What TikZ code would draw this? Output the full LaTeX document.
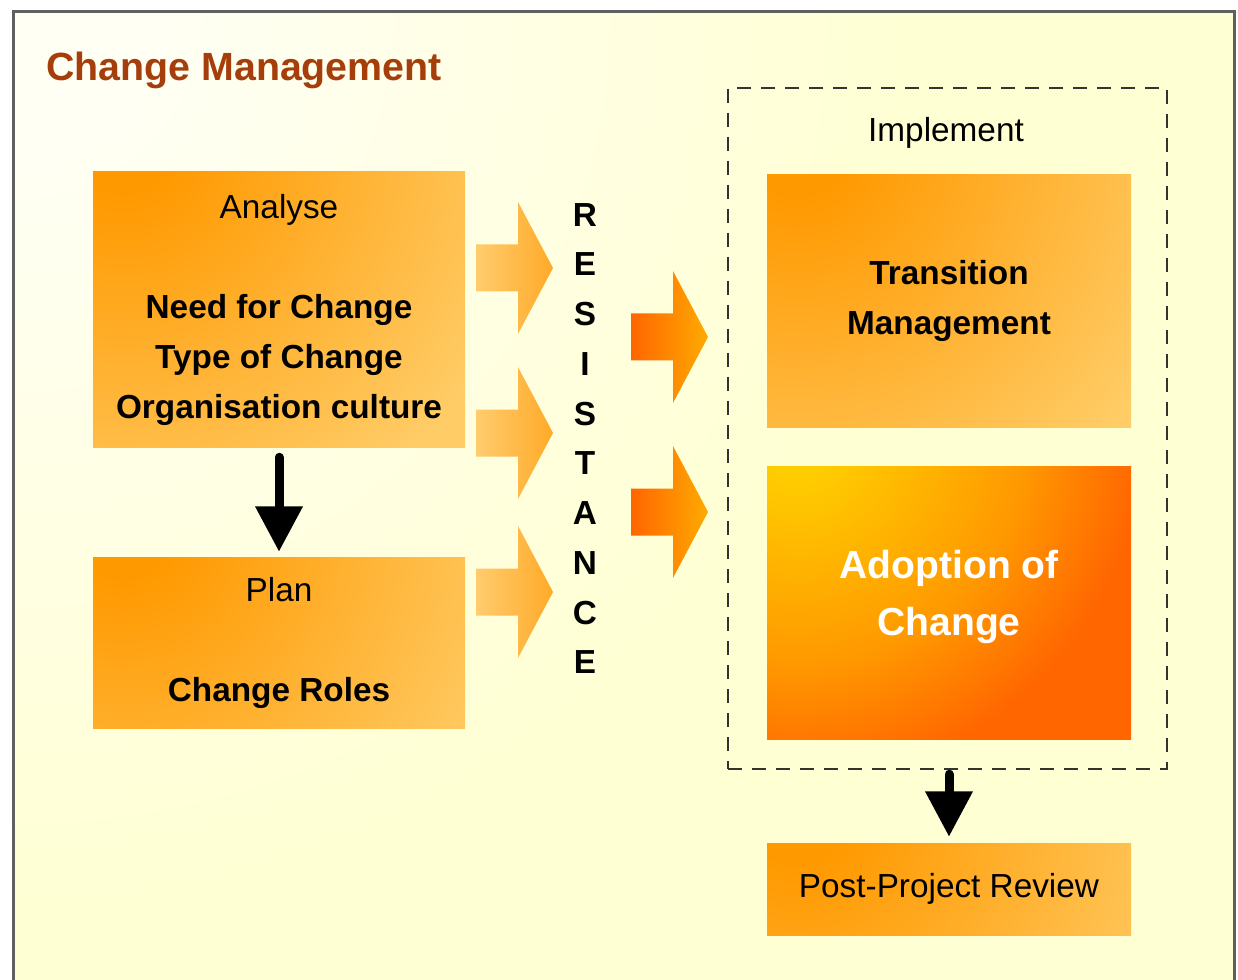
\documentclass[tikz,border=0pt]{standalone}
\usepackage{fontspec}
\setmainfont{Liberation Sans}
\usetikzlibrary{arrows.meta,calc}

\definecolor{titlebrown}{RGB}{165,62,10}
\definecolor{paperlight}{RGB}{255,255,244}
\definecolor{paperdeep}{RGB}{255,255,212}
\definecolor{ambdark}{RGB}{255,153,0}
\definecolor{amblight}{RGB}{255,204,102}
\definecolor{goldtop}{RGB}{255,204,0}
\definecolor{flame}{RGB}{255,102,0}
\definecolor{tailpale}{RGB}{255,204,110}
\definecolor{tipamber}{RGB}{255,170,40}
\definecolor{tipgold}{RGB}{255,170,0}

\pgfdeclareradialshading{amberglow}{\pgfpointorigin}{color(0bp)=(ambdark); color(3bp)=(ambdark); color(25bp)=(amblight); color(50bp)=(amblight)}
\pgfdeclareradialshading{flameglow}{\pgfpointorigin}{color(0bp)=(goldtop); color(2.5bp)=(goldtop); color(13.5bp)=(ambdark); color(20.5bp)=(flame); color(50bp)=(flame)}
\pgfdeclareradialshading{paperglow}{\pgfpointorigin}{color(0bp)=(paperlight); color(2bp)=(paperlight); color(14bp)=(paperdeep); color(50bp)=(paperdeep)}

\tikzset{
  glow/.style 2 args={path picture={
    \coordinate (glowc) at ($(path picture bounding box.north west)+(#2,#2)$);
    \shade[shading=#1] (glowc) ++(-420,-420) rectangle ++(840,840);}},
  stage/.style={inner sep=0pt, align=center, glow={amberglow}{30},
    font=\fontsize{25}{37.5}\selectfont},
  hotstage/.style={inner sep=0pt, align=center, glow={flameglow}{30},
    text=white, font=\fontsize{29.3}{42.75}\selectfont\bfseries},
  bigarrow/.style={line width=6.75pt, line cap=round, -{Triangle[width=34pt,length=34pt]}},
  lightarrow/.style={left color=tailpale, right color=tipamber},
  darkarrow/.style={left color=flame, right color=tipgold},
  blockarrow/.pic={
    \shade[#1] (0,-23.5) -- (42,-23.5) -- (42,-66) -- (77,0) -- (42,66) -- (42,23.5) -- (0,23.5) -- cycle;
  }
}

\begin{document}
\begin{tikzpicture}[x=0.75pt,y=0.75pt,yscale=-1,xscale=1]
\useasboundingbox (0,0) rectangle (1238,980);
% page
\node[anchor=north west, inner sep=0pt, minimum width={1221*0.75pt}, minimum height={990*0.75pt},
  draw=gray!75!black, line width=2.2pt, path picture={
    \shade[shading=paperglow] (path picture bounding box.north west) ++(-1600,-1600) rectangle ++(3200,3200);}] (page) at (12,10) {};
\node[anchor=west, inner sep=0pt, text=titlebrown, font=\fontsize{29.5}{35}\selectfont\bfseries] (title) at (46,70) {Change Management};

% left column
\node[stage, minimum width={372*0.75pt}, minimum height={275*0.75pt}] (analyse) at (279,309.5)
  {Analyse\\[37.5pt] \textbf{Need for Change}\\ \textbf{Type of Change}\\ \textbf{Organisation culture}};
\node[stage, minimum width={372*0.75pt}, minimum height={171*0.75pt}] (plan) at (279,642.5)
  {Plan\\[37.5pt] \textbf{Change Roles}};
\draw[bigarrow, shorten <=7.5pt, shorten >=3.75pt] (analyse) -- (plan);

% resistance
\pic (pushA) at (476,268) {blockarrow=lightarrow};
\pic (pushB) at (476,433) {blockarrow=lightarrow};
\pic (pushC) at (476,592) {blockarrow=lightarrow};
\node[align=center, inner sep=0pt, font=\fontsize{25}{37.3}\selectfont\bfseries] (resist) at (585,438.5)
  {R\\E\\S\\I\\S\\T\\A\\N\\C\\E};
\pic (pushD) at (631,337) {blockarrow=darkarrow};
\pic (pushE) at (631,512) {blockarrow=darkarrow};

% implement
\node[draw=black!80, line width=1.8pt, dash pattern=on 10.5pt off 7.5pt, minimum width={439*0.75pt}, minimum height={681*0.75pt}] (implement) at (947.5,428.5) {};
\node[font=\fontsize{25}{30}\selectfont, inner sep=0pt] (impltext) at (946,133) {Implement};
\node[stage, minimum width={364*0.75pt}, minimum height={252*0.75pt}] (transition) at (949,301)
  {\textbf{Transition}\\ \textbf{Management}};
\node[hotstage, text depth=15pt, minimum width={364*0.75pt}, minimum height={273*0.75pt}] (adoption) at (949,602.5)
  {Adoption of\\ Change};

% review
\node[stage, minimum width={364*0.75pt}, minimum height={92*0.75pt}] (review) at (949,889) {Post-Project Review};
\draw[bigarrow, shorten <=3pt, shorten >=4.5pt] (implement.south -| review.north) -- (review.north);
\end{tikzpicture}
\end{document}
